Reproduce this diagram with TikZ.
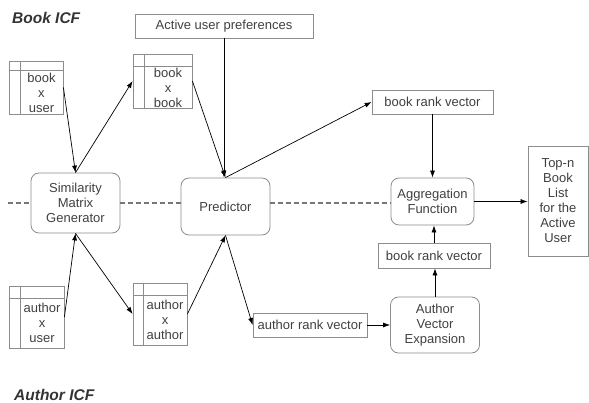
\documentclass[tikz,border=0pt]{standalone}
\usepackage{fontspec}
\setmainfont{Liberation Sans}
\usetikzlibrary{arrows.meta}
\definecolor{boxgray}{HTML}{8C8C8C}
\definecolor{txtgray}{HTML}{404040}
\definecolor{dashgray}{HTML}{767676}
\tikzset{
  box/.style={draw=boxgray, line width=0.8pt, text=txtgray, inner sep=0pt, align=center,
    font=\fontsize{13}{15}\selectfont},
  rbox/.style={box, rounded corners=8pt},
  tbl/.style 2 args={draw=boxgray, line width=0.8pt, inner sep=0pt, path picture={
    \draw[boxgray, line width=0.8pt] ([yshift=-#1]path picture bounding box.north west) -- ([yshift=-#1]path picture bounding box.north east);
    \draw[boxgray, line width=0.8pt] ([xshift=#2]path picture bounding box.north west) -- ([xshift=#2]path picture bounding box.south west);}},
  tbltext/.style={text=txtgray, inner sep=0pt, align=center, font=\fontsize{13}{15}\selectfont},
  title/.style={anchor=west, text=txtgray!80!black, inner sep=0pt, font=\fontsize{15.5}{17}\selectfont\bfseries\itshape},
  arr/.style={-{Latex[length=7pt,width=5pt]}, line width=0.7pt},
  dashline/.style={dashgray, line width=1.3pt, dash pattern=on 4.5pt off 3.5pt}
}
\begin{document}
\begin{tikzpicture}[x=1pt,y=-1pt]
\useasboundingbox (0,0) rectangle (589,403);

% Titles
\node[title] (booklbl) at (12,18) {Book ICF};
\node[title] (authlbl) at (14,395) {Author ICF};

% Book side
\node[box, minimum width=178pt, minimum height=24pt] (aup) at (224,26) {Active user preferences};
\node[tbl={9pt}{11pt}, minimum width=54pt, minimum height=53pt] (bxu) at (36,87.5) {};
\node[tbltext] (bxutxt) at (41.5,93) {book\\x\\user};
\node[tbl={12pt}{11pt}, minimum width=59pt, minimum height=54pt] (bxb) at (162.5,81) {};
\node[tbltext] (bxbtxt) at (168,87.5) {book\\x\\book};
\node[box, minimum width=121pt, minimum height=24pt] (brv1) at (432.5,102) {book rank vector};

% Middle row
\node[rbox, minimum width=89pt, minimum height=60pt] (sim) at (75.5,203) {Similarity\\Matrix\\Generator};
\node[rbox, minimum width=89pt, minimum height=57pt] (pred) at (225.5,206.5) {Predictor};
\node[rbox, minimum width=83pt, minimum height=47pt] (agg) at (432.5,201.5) {Aggregation\\Function};
\node[box, minimum width=60pt, minimum height=110pt] (topn) at (558,201) {Top-n\\Book\\List\\for the\\Active\\User};

% Author side
\node[tbl={12pt}{11pt}, minimum width=55pt, minimum height=62pt] (axu) at (36.5,317) {};
\node[tbltext] (axutxt) at (42,323) {author\\x\\user};
\node[tbl={12pt}{10pt}, minimum width=54pt, minimum height=62pt] (axa) at (160,314) {};
\node[tbltext] (axatxt) at (165,320) {author\\x\\author};
\node[box, minimum width=114pt, minimum height=24pt] (arv) at (310,325) {author rank vector};
\node[rbox, minimum width=89pt, minimum height=56pt] (ave) at (435,325) {Author\\Vector\\Expansion};
\node[box, minimum width=112pt, minimum height=25pt] (brv2) at (434,255.5) {book rank vector};

% Separator
\coordinate (dl) at (8,203);
\draw[dashline] (dl) -- (sim.west);
\draw[dashline] (sim.east) -- (sim.east -| pred.west);
\draw[dashline] (sim.east -| pred.east) -- (sim.east -| agg.west);

% Book connectors
\draw[arr] (bxu.east) -- (sim.north);
\draw[arr] (sim.north) -- (bxb.west);
\draw[arr] (bxb.east) -- (pred.north);
\draw[arr] (aup.south) -- (aup.south |- pred.north);
\draw[arr] (pred.north) -- (brv1.west);
\draw[arr] (brv1.south) -- (agg.north);
\draw[arr] (agg.east) -- (agg.east -| topn.west);

% Author connectors
\draw[arr] (axu.east) -- (sim.south);
\draw[arr] (sim.south) -- (axa.west);
\draw[arr] (axa.east) -- (pred.south);
\draw[arr] (pred.south) -- (arv.west);
\draw[arr] (arv.east) -- (ave.west);
\draw[arr] (ave.north) -- (ave.north |- brv2.south);
\draw[arr] (brv2.north) -- (brv2.north |- agg.south);
\end{tikzpicture}
\end{document}
